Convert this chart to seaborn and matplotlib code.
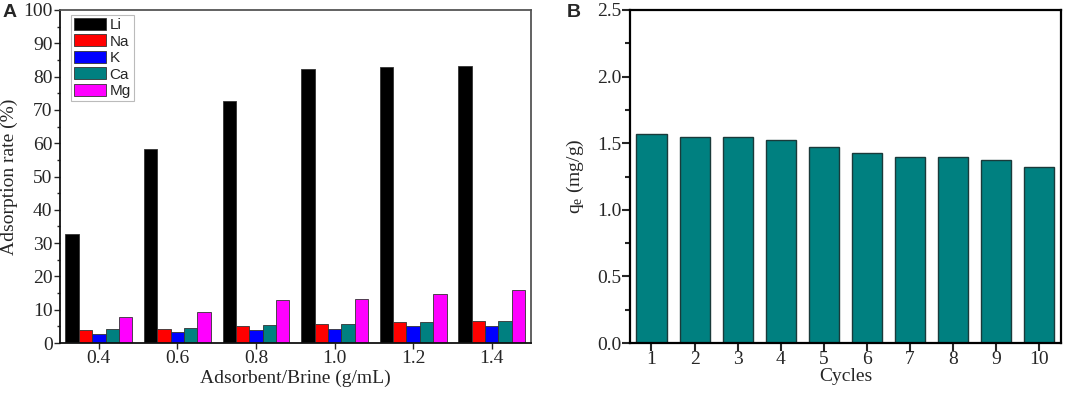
import numpy as np
import pandas as pd
import matplotlib
matplotlib.use("Agg")
import matplotlib.pyplot as plt
from matplotlib.ticker import MultipleLocator
import seaborn as sns

# ---- data ----
ratios = ["0.4", "0.6", "0.8", "1.0", "1.2", "1.4"]
ions = ["Li", "Na", "K", "Ca", "Mg"]
li = [32.7, 58.3, 72.7, 82.2, 82.9, 83.2]
na = [3.8, 4.3, 5.0, 5.6, 6.4, 6.7]
k = [2.8, 3.4, 3.8, 4.3, 5.0, 5.1]
ca = [4.2, 4.5, 5.3, 5.6, 6.4, 6.5]
mg = [7.7, 9.2, 12.8, 13.3, 14.6, 15.9]
ion_colors = ["#000000", "#ff0000", "#0000ff", "#008080", "#ff00ff"]

cycles = ["1", "2", "3", "4", "5", "6", "7", "8", "9", "10"]
qe = [1.57, 1.55, 1.55, 1.525, 1.475, 1.425, 1.40, 1.40, 1.375, 1.325]

dfA = pd.DataFrame({
    "ratio": ratios * 5,
    "ion": sum([[ion] * len(ratios) for ion in ions], []),
    "rate": li + na + k + ca + mg,
})
dfB = pd.DataFrame({"cycle": cycles, "qe": qe})

sns.set_style("ticks")
plt.rcParams["font.family"] = ["Liberation Serif", "DejaVu Serif"]
plt.rcParams["mathtext.fontset"] = "custom"
plt.rcParams["mathtext.rm"] = "Liberation Serif"
plt.rcParams["mathtext.it"] = "Liberation Serif:italic"

FS = 14

fig = plt.figure(figsize=(10.65, 3.95), dpi=100)
axA = fig.add_axes([0.0559, 0.1316, 0.4427, 0.8431])
axB = fig.add_axes([0.5915, 0.1316, 0.4047, 0.8431])

# ---- panel A ----
sns.barplot(data=dfA, x="ratio", y="rate", hue="ion", order=ratios,
            hue_order=ions, palette=ion_colors, width=0.85, ax=axA,
            edgecolor="#333333", linewidth=0.6, saturation=1, errorbar=None)
axA.set_xlim(-0.5, 5.5)
axA.set_ylim(0, 100)
axA.yaxis.set_major_locator(MultipleLocator(10))
axA.yaxis.set_minor_locator(MultipleLocator(5))
axA.set_xlabel("Adsorbent/Brine (g/mL)", fontsize=FS, labelpad=2)
axA.set_ylabel("Adsorption rate (%)", fontsize=FS, labelpad=4)
for s in axA.spines.values():
    s.set_visible(True)
    s.set_color("#555555")
    s.set_linewidth(1.3)
axA.spines["left"].set_color("#111111")
axA.spines["bottom"].set_color("#111111")
axA.tick_params(axis="both", which="major", direction="out", length=4,
                width=1, labelsize=FS, pad=1)
axA.tick_params(axis="y", which="minor", direction="out", length=2.5, width=1)
leg = axA.legend(loc="upper left", bbox_to_anchor=(0.025, 0.985),
                 frameon=True, fancybox=False, edgecolor="#aaaaaa",
                 prop={"family": "Liberation Sans", "size": 11},
                 handlelength=2.1, handleheight=0.8, labelspacing=0.15,
                 handletextpad=0.2, borderpad=0.2, borderaxespad=0)
leg.get_frame().set_linewidth(0.8)

# ---- panel B ----
sns.barplot(data=dfB, x="cycle", y="qe", order=cycles, color="#008080",
            width=0.7, ax=axB, edgecolor="#1a3a3a", linewidth=1.0,
            saturation=1, errorbar=None)
axB.set_xlim(-0.5, 9.5)
axB.set_ylim(0, 2.5)
axB.yaxis.set_major_locator(MultipleLocator(0.5))
axB.yaxis.set_minor_locator(MultipleLocator(0.25))
axB.set_xlabel("Cycles", fontsize=FS, labelpad=0)
axB.set_ylabel("q$_\\mathrm{e}$ (mg/g)", fontsize=FS, labelpad=8)
for s in axB.spines.values():
    s.set_visible(True)
    s.set_color("#000000")
    s.set_linewidth(1.6)
axB.tick_params(axis="both", which="major", direction="out", length=6,
                width=1.5, labelsize=FS, pad=0)
axB.tick_params(axis="y", which="minor", direction="out", length=3.5, width=1.5)

fig.text(0.002, 0.968, "A", fontsize=14, fontweight="bold",
         family="Liberation Sans", va="center", ha="left")
fig.text(0.532, 0.968, "B", fontsize=14, fontweight="bold",
         family="Liberation Sans", va="center", ha="left")

fig.savefig("out.png", dpi=100, facecolor="white")
